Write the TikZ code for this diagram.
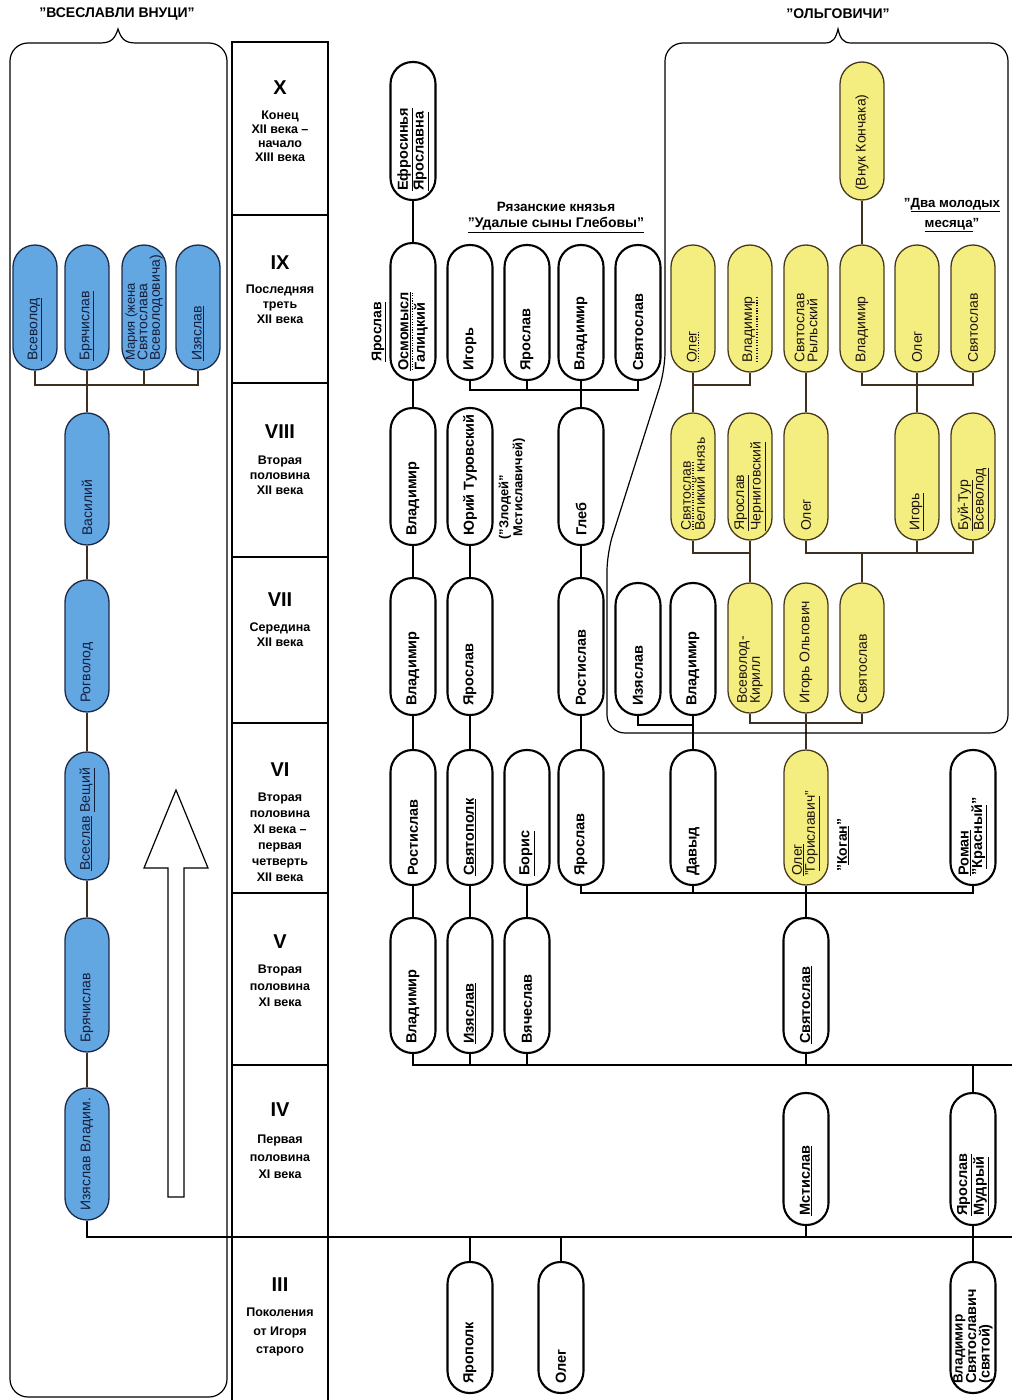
\documentclass[tikz,border=0pt]{standalone}
\usepackage{fontspec}
\setmainfont{Liberation Sans}
\usetikzlibrary{calc}
\definecolor{bluefill}{RGB}{98,166,226}
\definecolor{bluedraw}{RGB}{28,42,72}
\definecolor{bluetext}{RGB}{20,30,60}
\definecolor{yelfill}{RGB}{244,238,128}
\definecolor{yeldraw}{RGB}{70,58,30}
\definecolor{brownline}{RGB}{62,48,32}
\newcommand\uline[1]{\underline{#1}}
\newcommand\dotuline[1]{\leavevmode\setbox0=\hbox{#1}\vtop{\offinterlineskip\copy0\kern1.4pt\hbox to \wd0{\xleaders\hbox to 2.6pt{\hss\vrule width 1.2pt height 1.2pt depth 0pt\hss}\hfill}}}
\newcommand\pn[6]{%
  \node[#5, minimum height={(#4-#3)*1pt}] (#1) at (#2,{(#3+#4)/2}) {};
  \node[#5t] (#1t) at (#2,#4-9) {#6};}
\pgfdeclarelayer{bg}
\pgfsetlayers{bg,main}
\begin{document}
\begin{tikzpicture}[x=1pt,y=-1pt,
  bk/.style={draw=black, line width=2.1pt, fill=white, rounded corners=22pt, minimum width=45pt, inner sep=0pt},
  bkt/.style={rotate=90, anchor=west, inner sep=0pt, align=left, font=\bfseries\fontsize{14.5}{13.5}\selectfont},
  bl/.style={draw=bluedraw, line width=1.3pt, fill=bluefill, rounded corners=22pt, minimum width=44pt, inner sep=0pt},
  blt/.style={rotate=90, anchor=west, inner sep=0pt, align=left, text=bluetext, font=\fontsize{14}{12.5}\selectfont},
  yl/.style={draw=yeldraw, line width=1.3pt, fill=yelfill, rounded corners=22pt, minimum width=44pt, inner sep=0pt},
  ylt/.style={rotate=90, anchor=west, inner sep=0pt, align=left, text=black!85!brown, font=\fontsize{14}{13}\selectfont},
  bkline/.style={line width=2.6pt, draw=black},
  cline/.style={line width=2pt, draw=brownline},
  frame/.style={line width=1.2pt, draw=black},
  gnum/.style={font=\bfseries\fontsize{20}{20}\selectfont, inner sep=0pt},
  gtxt/.style={font=\bfseries\fontsize{12.5}{15}\selectfont, align=center, inner sep=0pt, anchor=north},
  ttl/.style={font=\bfseries\fontsize{14}{16}\selectfont, inner sep=0pt, align=center},
]
\useasboundingbox (0,0) rectangle (1012,1400);
% level coordinates
\coordinate (L385) at (0,385);
\coordinate (L390) at (0,390);
\coordinate (L553) at (0,553);
\coordinate (L723) at (0,723);
\coordinate (L725) at (0,725);
\coordinate (L893) at (0,893);
\coordinate (E1065) at (1012,1065);
\coordinate (E1237) at (1012,1237);

% group frames
\draw[frame] (100,43) .. controls (112,43) and (115,38) .. (118,29) .. controls (121,38) and (124,43) .. (136,43)
  [rounded corners=18pt] -- (227,43) -- (227,1397) -- (10,1397) -- (10,43) -- (100,43);
\draw[frame] (825,43) .. controls (833,43) and (836,38) .. (838,29) .. controls (840,38) and (843,43) .. (851,43)
  [rounded corners=18pt] -- (1008,43) -- (1008,733) -- (607,733) -- (607,553) -- (665,370) -- (665,43) -- (825,43);
\node[ttl] (tVs) at (117,14) {”ВСЕСЛАВЛИ ВНУЦИ”};
\node[ttl] (tOl) at (838,14) {”ОЛЬГОВИЧИ”};

% generation column
\draw[frame] (232,1400) -- (232,42) -- (328,42) -- (328,1400);
\foreach \yy in {215,383,557,723,893,1065}{\draw[frame] (232,\yy) -- (328,\yy);}
\node[gnum] (gX) at (280,88) {X};
\node[gtxt, font=\bfseries\fontsize{12.5}{14}\selectfont] (gXt) at (280,111) {Конец\\XII века –\\начало\\XIII века};
\node[gnum] (gIX) at (280,263) {IX};
\node[gtxt] (gIXt) at (280,285) {Последняя\\треть\\XII века};
\node[gnum] (gVIII) at (280,432) {VIII};
\node[gtxt] (gVIIIt) at (280,456) {Вторая\\половина\\XII века};
\node[gnum] (gVII) at (280,600) {VII};
\node[gtxt] (gVIIt) at (280,623) {Середина\\XII века};
\node[gnum] (gVI) at (280,770) {VI};
\node[gtxt, font=\bfseries\fontsize{12.5}{16}\selectfont] (gVIt) at (280,793) {Вторая\\половина\\XI века –\\первая\\четверть\\XII века};
\node[gnum] (gV) at (280,942) {V};
\node[gtxt, font=\bfseries\fontsize{12.5}{16.5}\selectfont] (gVt) at (280,965) {Вторая\\половина\\XI века};
\node[gnum] (gIV) at (280,1110) {IV};
\node[gtxt, font=\bfseries\fontsize{12.5}{17.5}\selectfont] (gIVt) at (280,1135) {Первая\\половина\\XI века};
\node[gnum] (gIII) at (280,1285) {III};
\node[gtxt, font=\bfseries\fontsize{12.5}{18.5}\selectfont] (gIIIt) at (280,1308) {Поколения\\от Игоря\\старого};

% hollow arrow
\draw[frame, fill=white] (168,1197) -- (168,868) -- (144,868) -- (176,790) -- (208,868) -- (184,868) -- (184,1197) -- cycle;

% ---------- nodes ----------
% blue
\pn{bVsev}{35}{245}{370}{bl}{\uline{Всеволод}}
\pn{bBr9}{87}{245}{370}{bl}{\uline{Брячислав}}
\pn{bMar}{144}{245}{370}{bl}{\fontsize{13}{12}\selectfont Мария (жена\\Святослава\\Всеволодовича)}
\pn{bIz9}{198}{245}{370}{bl}{\uline{Изяслав}}
\pn{bVas}{87}{413}{545}{bl}{Василий}
\pn{bRog}{87}{580}{712}{bl}{Рогволод}
\pn{bVses}{87}{752}{880}{bl}{\uline{Всеслав}\ \uline{Вещий}}
\pn{bBr5}{87}{918}{1052}{bl}{Брячислав}
\pn{bIzV}{87}{1088}{1220}{bl}{Изяслав Владим.}

% black
\pn{efr}{413}{62}{200}{bk}{\uline{Ефросинья}\\\uline{Ярославна}}
\pn{osm}{413}{243}{380}{bk}{\dotuline{\uline{Осмомысл}}\\Галицкий}
\pn{aVl8}{413}{408}{545}{bk}{Владимир}
\pn{aVl7}{413}{578}{715}{bk}{Владимир}
\pn{aRo6}{413}{750}{885}{bk}{Ростислав}
\pn{aVl5}{413}{918}{1053}{bk}{Владимир}
\pn{rIg}{470}{245}{380}{bk}{Игорь}
\pn{bYu}{470}{408}{545}{bk}{Юрий Туровский}
\pn{bYa7}{470}{578}{715}{bk}{Ярослав}
\pn{bSvp}{470}{750}{885}{bk}{\uline{Святополк}}
\pn{bIz5}{470}{918}{1053}{bk}{\uline{Изяслав}}
\pn{rYa}{527}{245}{380}{bk}{Ярослав}
\pn{cBor}{527}{750}{885}{bk}{\uline{Борис}}
\pn{cVya}{527}{918}{1053}{bk}{Вячеслав}
\pn{rVl}{581}{245}{380}{bk}{Владимир}
\pn{dGl}{581}{408}{545}{bk}{Глеб}
\pn{dRo7}{581}{578}{715}{bk}{Ростислав}
\pn{dYa6}{581}{750}{885}{bk}{Ярослав}
\pn{rSv}{638}{245}{380}{bk}{Святослав}
\pn{eIz7}{638}{583}{715}{bk}{Изяслав}
\pn{fVl7}{693}{583}{715}{bk}{Владимир}
\pn{fDav}{693}{750}{885}{bk}{Давыд}
\pn{kRom}{973}{750}{885}{bk}{\uline{Роман}\\”\uline{Красный}”}
\pn{hSv5}{806}{918}{1053}{bk}{\uline{Святослав}}
\pn{hMst}{806}{1093}{1225}{bk}{\uline{Мстислав}}
\pn{kYaM}{973}{1093}{1225}{bk}{\uline{Ярослав}\\\uline{Мудрый}}
\pn{yarop}{470}{1262}{1393}{bk}{Ярополк}
\pn{oleg3}{561}{1262}{1393}{bk}{Олег}
\pn{vlSv}{973}{1262}{1393}{bk}{\fontsize{13.5}{12}\selectfont Владимир\\Святославич\\(святой)}

% yellow
\pn{yVk}{862}{62}{200}{yl}{(Внук Кончака)}
\pn{yOl9}{693}{245}{372}{yl}{\dotuline{Олег}}
\pn{yVl9}{750}{245}{372}{yl}{\dotuline{Владимир}}
\pn{ySvR}{806}{245}{372}{yl}{Святослав\\Рыльский}
\pn{yVl9b}{862}{245}{372}{yl}{Владимир}
\pn{yOl9b}{917}{245}{372}{yl}{Олег}
\pn{ySv9}{973}{245}{372}{yl}{Святослав}
\pn{ySvV}{693}{413}{540}{yl}{\dotuline{Святослав}\\Великий князь}
\pn{yYaCh}{750}{413}{540}{yl}{\uline{Ярослав}\\\uline{Черниговский}}
\pn{yOl8}{806}{413}{540}{yl}{Олег}
\pn{yIg8}{917}{413}{540}{yl}{\uline{Игорь}}
\pn{yBuy}{973}{413}{540}{yl}{\uline{Буй-Тур}\\\uline{Всеволод}}
\pn{yVsK}{750}{583}{713}{yl}{Всеволод-\\Кирилл}
\pn{yIgO}{806}{583}{713}{yl}{Игорь Ольгович}
\pn{ySv7}{862}{583}{713}{yl}{Святослав}
\pn{yOlG}{806}{750}{885}{yl}{\uline{Олег}\\”\uline{Гориславич}”}

% ---------- connectors (behind nodes) ----------
\begin{pgfonlayer}{bg}
% blue connectors
\draw[cline] (bVsev.south) |- (L385 -| bIz9.south) -- (bIz9.south);
\draw[cline] (bMar.south) -- (bMar.south |- L385);
\draw[cline] (bBr9.south) -- (bVas.north);
\draw[cline] (bVas.south) -- (bRog.north);
\draw[cline] (bRog.south) -- (bVses.north);
\draw[cline] (bVses.south) -- (bBr5.north);
\draw[cline] (bBr5.south) -- (bIzV.north);
\draw[bkline] (bIzV.south) |- (E1237);

% black connectors
\draw[bkline] (efr.south) -- (osm.north);
\draw[bkline] (osm.south) -- (aVl8.north);
\draw[bkline] (aVl8.south) -- (aVl7.north);
\draw[bkline] (aVl7.south) -- (aRo6.north);
\draw[bkline] (aRo6.south) -- (aVl5.north);
\draw[bkline] (aVl5.south) |- (E1065);
\draw[bkline] (bYu.south) -- (bYa7.north);
\draw[bkline] (bYa7.south) -- (bSvp.north);
\draw[bkline] (bSvp.south) -- (bIz5.north);
\draw[bkline] (bIz5.south) -- (bIz5.south |- E1065);
\draw[bkline] (cBor.south) -- (cVya.north);
\draw[bkline] (cVya.south) -- (cVya.south |- E1065);
\draw[bkline] (rIg.south) |- (L390 -| rSv.south) -- (rSv.south);
\draw[bkline] (rYa.south) -- (rYa.south |- L390);
\draw[bkline] (rVl.south) -- (dGl.north);
\draw[bkline] (dGl.south) -- (dRo7.north);
\draw[bkline] (dRo7.south) -- (dYa6.north);
\draw[bkline] (dYa6.south) |- (L893 -| kRom.south) -- (kRom.south);
\draw[bkline] (eIz7.south) |- (L725 -| fVl7.south);
\draw[bkline] (fVl7.south) -- (fDav.north);
\draw[bkline] (fDav.south) -- (fDav.south |- L893);
\draw[bkline] (yOlG.south) -- (hSv5.north);
\draw[bkline] (hSv5.south) -- (hSv5.south |- E1065);
\draw[bkline] (kYaM.north) -- (kYaM.north |- E1065);
\draw[bkline] (hMst.south) -- (hMst.south |- E1237);
\draw[bkline] (kYaM.south) -- (vlSv.north);
\draw[bkline] (yarop.north) -- (yarop.north |- E1237);
\draw[bkline] (oleg3.north) -- (oleg3.north |- E1237);

% yellow connectors
\draw[cline] (yVk.south) -- (yVl9b.north);
\draw[cline] (yOl9.south) |- (L385 -| yVl9.south) -- (yVl9.south);
\draw[cline] (yOl9.south) -- (ySvV.north);
\draw[cline] (ySvR.south) -- (yOl8.north);
\draw[cline] (yVl9b.south) |- (L385 -| ySv9.south) -- (ySv9.south);
\draw[cline] (yOl9b.south) -- (yIg8.north);
\draw[cline] (ySvV.south) |- (L553 -| yYaCh.south) -- (yYaCh.south);
\draw[cline] (yYaCh.south) -- (yVsK.north);
\draw[cline] (yOl8.south) |- (L553 -| yBuy.south) -- (yBuy.south);
\draw[cline] (yIg8.south) -- (yIg8.south |- L553);
\draw[cline] (ySv7.north) -- (ySv7.north |- L553);
\draw[cline] (yVsK.south) |- (L723 -| ySv7.south) -- (ySv7.south);
\draw[cline] (yIgO.south) -- (yOlG.north);
\end{pgfonlayer}

% annotations
\node[bkt, font=\bfseries\fontsize{14}{14}\selectfont] (annYa) at (379,362) {\uline{Ярослав}};
\node[bkt, font=\bfseries\fontsize{13}{14}\selectfont] (annZl) at (512,540) {(”Злодей”\\\ Мстиславичей)};
\node[bkt, font=\bfseries\fontsize{14}{14}\selectfont] (annKo) at (843,872) {”\uline{Коган}”};
\node[ttl, font=\bfseries\fontsize{13.5}{14}\selectfont] (ryz1) at (556,207) {Рязанские князья};
\node[ttl, font=\bfseries\fontsize{14}{14}\selectfont] (ryz2) at (556,225) {\uline{”Удалые сыны Глебовы”}};
\node[ttl, font=\bfseries\fontsize{13.3}{20}\selectfont] (dva) at (952,215) {”\uline{Два молодых}\\\uline{месяца}”};
\end{tikzpicture}
\end{document}
